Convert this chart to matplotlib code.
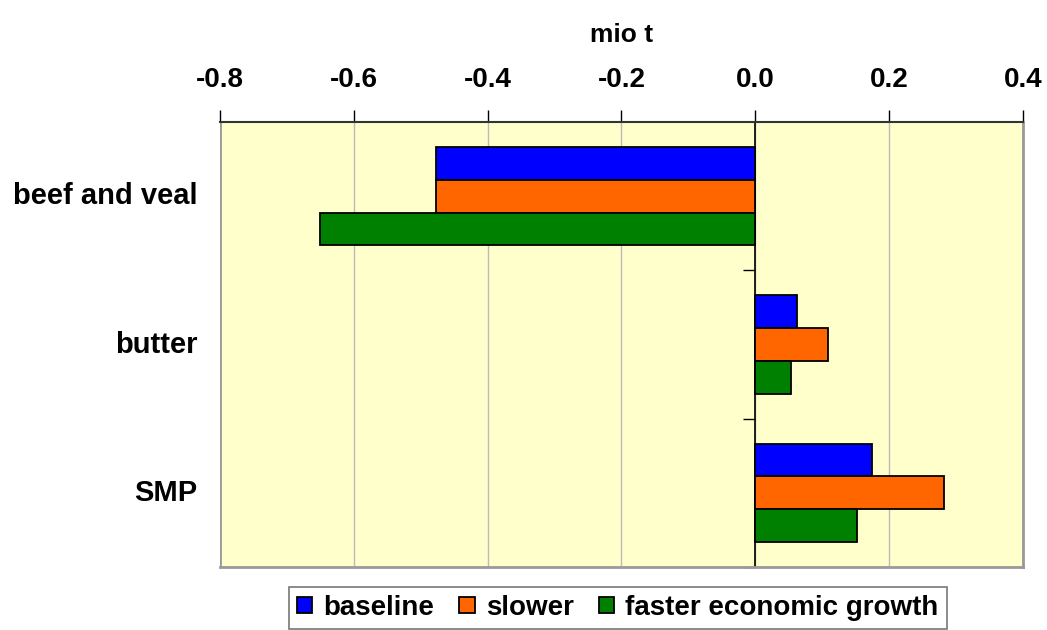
import numpy as np
import matplotlib
matplotlib.use("Agg")
import matplotlib.pyplot as plt
import matplotlib.transforms as mtransforms
from matplotlib.patches import Patch

plt.rcParams['font.family'] = ['Liberation Sans', 'DejaVu Sans']

categories = ['beef and veal', 'butter', 'SMP']
series_names = ['baseline', 'slower', 'faster economic growth']
baseline = [-0.477, 0.062, 0.175]
slower = [-0.477, 0.108, 0.282]
faster = [-0.650, 0.053, 0.152]
xticks = [-0.8, -0.6, -0.4, -0.2, 0.0, 0.2, 0.4]
colors = ['#0000FF', '#FF6600', '#008000']

fig = plt.figure(figsize=(10.47, 6.3), dpi=100)
ax = fig.add_axes([0.2101, 0.1, 0.767, 0.7063])
ax.set_facecolor('#FFFFCC')

y = np.arange(len(categories))
h = 0.221
for i, (vals, c) in enumerate(zip([baseline, slower, faster], colors)):
    ax.barh(y + (i - 1) * h, vals, height=h, color=c, edgecolor='black', linewidth=1.3, zorder=3)

ax.set_xlim(-0.8, 0.4)
ax.set_ylim(2.5, -0.5)
ax.set_xticks(xticks)
ax.set_xticklabels(['%.1f' % v for v in xticks], fontsize=20, fontweight='bold')
ax.xaxis.tick_top()
ax.xaxis.set_label_position('top')
ax.set_xlabel('mio t', fontsize=19, fontweight='bold', labelpad=18)
ax.tick_params(axis='x', direction='out', length=9, width=1, pad=12, top=True, bottom=False)
ax.grid(axis='x', color='#BBBBBB', linewidth=1)
ax.set_axisbelow(True)

# y axis sits on the zero line, ticks between categories
ax.spines['left'].set_position(('data', 0))
ax.spines['left'].set_color('black')
ax.spines['left'].set_linewidth(1.2)
ax.set_yticks([0.5, 1.5, 2.5])
ax.set_yticklabels([])
ax.tick_params(axis='y', direction='out', length=9, width=1)
ax.spines['top'].set_color('#333333')
ax.spines['top'].set_linewidth(1.5)
for s in ['right', 'bottom']:
    ax.spines[s].set_color('#999999')
    ax.spines[s].set_linewidth(2)

# frame edge at the left of the plot area
ax.axvline(-0.8, color='#999999', linewidth=2, zorder=1)

trans = mtransforms.blended_transform_factory(ax.transAxes, ax.transData)
for yi, name in zip(y, categories):
    ax.text(-0.028, yi, name, transform=trans, ha='right', va='center',
            fontsize=21, fontweight='bold')

handles = [Patch(facecolor=c, edgecolor='black', linewidth=1.3) for c in colors]
leg = fig.legend(handles, series_names, loc='upper center', bbox_to_anchor=(0.59, 0.069),
                 ncol=3, frameon=True, fancybox=False, handlelength=0.55, handleheight=0.55,
                 handletextpad=0.4, columnspacing=0.9, borderpad=0.3, borderaxespad=0,
                 prop={'size': 20, 'weight': 'bold'})
leg.get_frame().set_edgecolor('#555555')
leg.get_frame().set_linewidth(1.2)

fig.savefig('out.png', dpi=100)
